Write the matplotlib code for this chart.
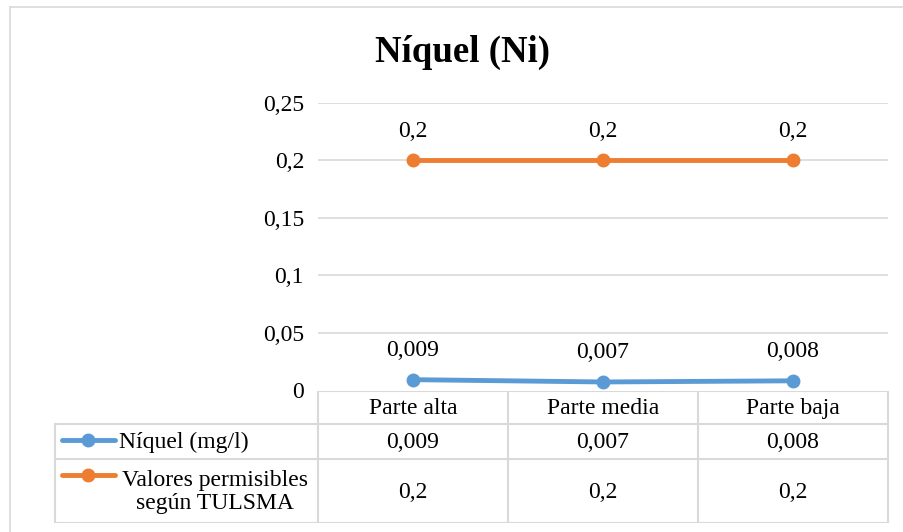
import matplotlib.pyplot as plt
import numpy as np

# data
categories = ["Parte alta", "Parte media", "Parte baja"]
niquel = [0.009, 0.007, 0.008]
tulsma = [0.2, 0.2, 0.2]
series_names = ["Níquel (mg/l)", "Valores permisibles\nsegún TULSMA"]
yticks = [0, 0.05, 0.1, 0.15, 0.2, 0.25]

BLUE = "#5B9BD5"
ORANGE = "#ED7D31"
GRID = "#D9D9D9"
FS = 17

plt.rcParams['font.family'] = ['Liberation Serif', 'DejaVu Serif']

W, H = 904, 532


def fmt(v):
    return f"{v:g}".replace(".", ",")


def px(x0, y0, x1, y1):
    # pixel box (top-left origin) -> figure fraction rect
    return [x0 / W, 1 - y1 / H, (x1 - x0) / W, (y1 - y0) / H]


fig = plt.figure(figsize=(W / 100, H / 100), dpi=100)

# outer chart border (top and left visible)
fig.add_artist(plt.Line2D([10 / W, 1], [1 - 7 / H, 1 - 7 / H], color=GRID, lw=1.2))
fig.add_artist(plt.Line2D([10 / W, 10 / W], [0, 1 - 7 / H], color=GRID, lw=1.2))

fig.text(463 / W, 1 - 52 / H, "Níquel (Ni)", ha="center", va="center",
         fontsize=26.5, fontweight="bold")

# main plot
ax = fig.add_axes(px(318, 103, 888, 390))
x = np.arange(len(categories))
ax.set_xlim(-0.5, len(categories) - 0.5)
ax.set_ylim(0, 0.25)
ax.set_yticks(yticks)
ax.set_yticklabels([fmt(v) for v in yticks], fontsize=FS)
ax.tick_params(axis="y", length=0, pad=10)
ax.set_xticks([])
for s in ax.spines.values():
    s.set_visible(False)
for v in yticks[1:]:
    ax.axhline(v, color=GRID, lw=1.2, zorder=1)

for vals, col in [(niquel, BLUE), (tulsma, ORANGE)]:
    ax.plot(x, vals, color=col, lw=3.5, marker="o", markersize=9, zorder=3,
            clip_on=False)
    for xi, v in zip(x, vals):
        ax.annotate(fmt(v), (xi, v), xytext=(0, 21), textcoords="offset points",
                    ha="center", va="center", fontsize=FS)

# data table below
tb = fig.add_axes(px(0, 391, W, 523))
tb.set_xlim(0, W)
tb.set_ylim(523, 391)
tb.axis("off")

col_edges = [318, 508, 698, 888]
row_edges = [391, 424, 459, 523]
left = 55
lkw = dict(color=GRID, lw=1.5, solid_capstyle="projecting")

# horizontal lines
tb.plot([318, 888], [row_edges[0]] * 2, **lkw)
for yy in row_edges[1:]:
    tb.plot([left, 888], [yy, yy], **lkw)
# vertical lines
tb.plot([left, left], [row_edges[1], row_edges[3]], **lkw)
for xx in col_edges:
    tb.plot([xx, xx], [row_edges[0], row_edges[3]], **lkw)

# category row
for i, c in enumerate(categories):
    cx = (col_edges[i] + col_edges[i + 1]) / 2
    tb.text(cx, (row_edges[0] + row_edges[1]) / 2 + 1, c, ha="center",
            va="center", fontsize=FS)

# series rows with legend keys
for r, (name, vals, col) in enumerate([(series_names[0], niquel, BLUE),
                                       (series_names[1], tulsma, ORANGE)]):
    cy = (row_edges[r + 1] + row_edges[r + 2]) / 2
    ky = row_edges[r + 1] + 16
    tb.plot([62, 115], [ky, ky], color=col, lw=3.5, solid_capstyle="round")
    tb.plot([88], [ky], marker="o", color=col, markersize=9)
    if r == 0:
        tb.text(119, cy + 1, name, ha="left", va="center", fontsize=FS)
    else:
        tb.text(215, cy + 1, name, ha="center", va="center", fontsize=FS,
                multialignment="center", linespacing=1.15)
    for i, v in enumerate(vals):
        cx = (col_edges[i] + col_edges[i + 1]) / 2
        tb.text(cx, cy + 1, fmt(v), ha="center", va="center", fontsize=FS)

fig.savefig("out.png", dpi=100)
